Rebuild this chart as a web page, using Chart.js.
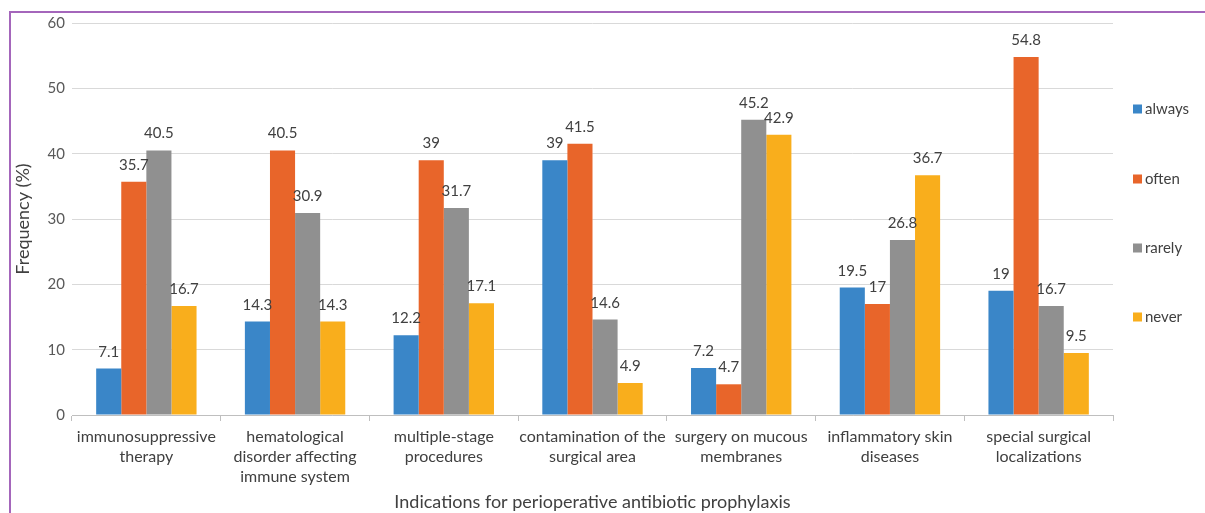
<!DOCTYPE html>
<html>
<head>
<meta charset="utf-8">
<script src="https://cdn.jsdelivr.net/npm/chart.js@4.4.1/dist/chart.umd.min.js"></script>
<style>
  html, body { margin: 0; padding: 0; background: #fff; overflow: hidden; }
  #frame { position: absolute; left: 9px; top: 11px; width: 1400px; height: 700px;
           border: 2px solid #a466bb; box-sizing: border-box; }
  #wrap { position: absolute; left: 0; top: 0; width: 1205px; height: 513px; }
</style>
</head>
<body>
<div id="frame"></div>
<div id="wrap"><canvas id="chart" width="1205" height="513"></canvas></div>
<script>
// Indications and response frequencies (%)
const categories = [
  ['immunosuppressive', 'therapy'],
  ['hematological', 'disorder affecting', 'immune system'],
  ['multiple-stage', 'procedures'],
  ['contamination of the', 'surgical area'],
  ['surgery on mucous', 'membranes'],
  ['inflammatory skin', 'diseases'],
  ['special surgical', 'localizations']
];
const seriesNames = ['always', 'often', 'rarely', 'never'];
const always = [7.1, 14.3, 12.2, 39, 7.2, 19.5, 19];
const often  = [35.7, 40.5, 39, 41.5, 4.7, 17, 54.8];
const rarely = [40.5, 30.9, 31.7, 14.6, 45.2, 26.8, 16.7];
const never  = [16.7, 14.3, 17.1, 4.9, 42.9, 36.7, 9.5];
const colors = ['#3a86c8', '#e8652a', '#909090', '#f9ae1c'];

const FONT = 'Lato, "Open Sans", sans-serif';
const TEXT = '#404040';

// Value labels above each bar
const valueLabels = {
  id: 'valueLabels',
  afterDatasetsDraw(chart) {
    const ctx = chart.ctx;
    ctx.save();
    ctx.font = '15px ' + FONT;
    ctx.fillStyle = TEXT;
    ctx.textAlign = 'center';
    ctx.textBaseline = 'alphabetic';
    chart.data.datasets.forEach((ds, i) => {
      chart.getDatasetMeta(i).data.forEach((bar, j) => {
        ctx.fillText(String(ds.data[j]), bar.x, bar.y - 12);
      });
    });
    ctx.restore();
  }
};

// Vertical legend on the right
const sideLegend = {
  id: 'sideLegend',
  afterDraw(chart) {
    const ctx = chart.ctx;
    const ys = [109, 179, 248, 317];
    ctx.save();
    ctx.font = '15px ' + FONT;
    ctx.textAlign = 'left';
    ctx.textBaseline = 'middle';
    chart.data.datasets.forEach((ds, i) => {
      const y = ys[i];
      ctx.fillStyle = ds.backgroundColor;
      ctx.fillRect(1133, y - 4.5, 9, 9);
      ctx.fillStyle = TEXT;
      ctx.fillText(ds.label, 1145, y);
    });
    ctx.restore();
  }
};

new Chart(document.getElementById('chart'), {
  type: 'bar',
  data: {
    labels: categories,
    datasets: [always, often, rarely, never].map((d, i) => ({
      label: seriesNames[i],
      data: d,
      backgroundColor: colors[i],
      borderWidth: 0,
      categoryPercentage: 0.675,
      barPercentage: 1
    }))
  },
  options: {
    responsive: false,
    animation: false,
    devicePixelRatio: 1,
    layout: { padding: { left: 12, right: 92, top: 23, bottom: 0 } },
    plugins: { legend: { display: false }, tooltip: { enabled: false } },
    scales: {
      x: {
        afterFit(scale) { scale.height = 98; },
        grid: { display: true, drawOnChartArea: false, drawTicks: true, tickLength: 6,
                color: '#bfbfbf', offset: true },
        border: { display: true, color: '#bfbfbf', width: 1 },
        ticks: { color: TEXT, font: { family: FONT, size: 16, lineHeight: 1.25 },
                 padding: 6, maxRotation: 0, autoSkip: false },
        title: { display: true, text: 'Indications for perioperative antibiotic prophylaxis',
                 color: TEXT, font: { family: FONT, size: 18 }, padding: { top: 0, bottom: 0 } }
      },
      y: {
        min: 0, max: 60,
        afterFit(scale) { scale.width = 60; },
        grid: { color: '#d9d9d9', drawTicks: false, lineWidth: 1 },
        border: { display: false },
        ticks: { stepSize: 10, color: '#595959', font: { family: FONT, size: 15 }, padding: 7 },
        title: { display: true, text: 'Frequency (%)', color: TEXT,
                 font: { family: FONT, size: 18 }, padding: { top: 0, bottom: 0 } }
      }
    }
  },
  plugins: [valueLabels, sideLegend]
});
</script>
</body>
</html>
